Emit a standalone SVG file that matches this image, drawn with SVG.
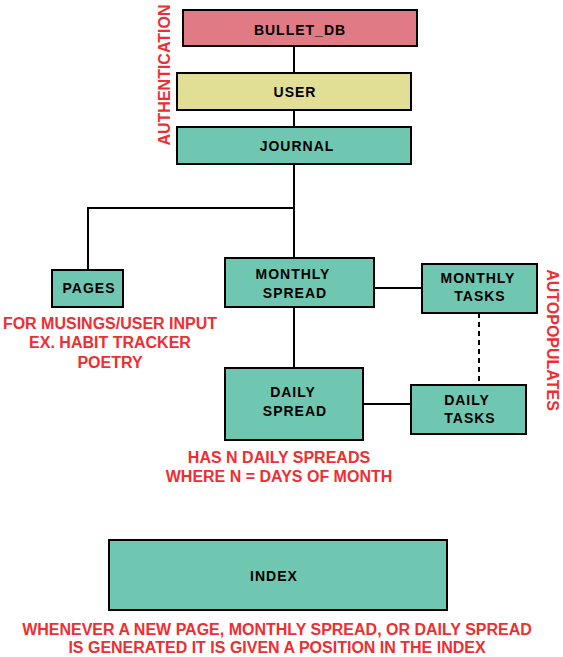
<svg xmlns="http://www.w3.org/2000/svg" width="563" height="657" viewBox="0 0 563 657">
<style>
.n{stroke:#000;stroke-width:2}
.t{font-family:"Liberation Sans",Arial,sans-serif;font-weight:bold;font-size:14px;letter-spacing:1px;fill:#000;text-anchor:middle}
.r{font-family:"Liberation Sans",Arial,sans-serif;font-weight:bold;font-size:16px;fill:#EE2E31;text-anchor:middle}
.c{stroke:#000;stroke-width:2;fill:none}
.teal{fill:#6FC7B1}
</style>
<rect width="563" height="657" fill="#fff"/>
<g id="connectors">
<path class="c" d="M294 46V73M294 110V127M294 164V258M294 307V368M294 208H88V270"/>
<path class="c" d="M374 288H422M363 404H411"/>
<path class="c" d="M479 313V385" stroke-dasharray="5 4" stroke-width="1.2"/>
</g>
<g id="bullet_db"><rect class="n" x="183" y="10" width="234" height="36" fill="#E07A84"/><text class="t" x="300" y="35">BULLET_DB</text></g>
<g id="user"><rect class="n" x="177" y="73" width="234" height="37" fill="#E1DF96"/><text class="t" x="295" y="97">USER</text></g>
<g id="journal"><rect class="n teal" x="177" y="127" width="234" height="37"/><text class="t" x="297" y="151">JOURNAL</text></g>
<g id="pages"><rect class="n teal" x="52" y="270" width="71" height="37"/><text class="t" x="89" y="293">PAGES</text></g>
<g id="monthly_spread"><rect class="n teal" x="225" y="258" width="149" height="49"/><text class="t" x="293" y="279">MONTHLY</text><text class="t" x="295" y="298">SPREAD</text></g>
<g id="monthly_tasks"><rect class="n teal" x="422" y="264" width="115" height="49"/><text class="t" x="478" y="283">MONTHLY</text><text class="t" x="480" y="301">TASKS</text></g>
<g id="daily_spread"><rect class="n teal" x="225" y="368" width="138" height="72"/><text class="t" x="293" y="397">DAILY</text><text class="t" x="295" y="416">SPREAD</text></g>
<g id="daily_tasks"><rect class="n teal" x="411" y="385" width="115" height="49"/><text class="t" x="467" y="405">DAILY</text><text class="t" x="470" y="423">TASKS</text></g>
<g id="index"><rect class="n teal" x="109" y="540" width="338" height="70"/><text class="t" x="274" y="581">INDEX</text></g>
<g id="labels">
<text class="r" transform="translate(170 75) rotate(-90)">AUTHENTICATION</text>
<text class="r" transform="translate(547 340) rotate(90)">AUTOPOPULATES</text>
<text class="r" x="110" y="329">FOR MUSINGS/USER INPUT</text>
<text class="r" x="110" y="348">EX. HABIT TRACKER</text>
<text class="r" x="110" y="368">POETRY</text>
<text class="r" x="279" y="463">HAS N DAILY SPREADS</text>
<text class="r" x="279" y="482">WHERE N = DAYS OF MONTH</text>
<text class="r" x="277" y="635">WHENEVER A NEW PAGE, MONTHLY SPREAD, OR DAILY SPREAD</text>
<text class="r" x="277" y="653">IS GENERATED IT IS GIVEN A POSITION IN THE INDEX</text>
</g>
</svg>
